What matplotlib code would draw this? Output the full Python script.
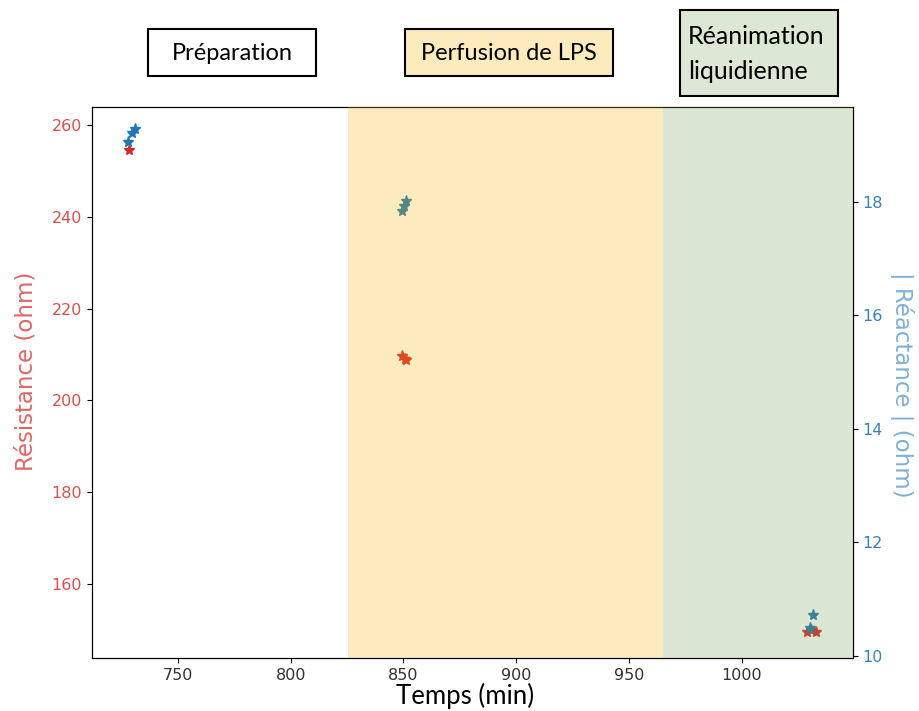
import matplotlib
matplotlib.use('Agg')
import matplotlib.pyplot as plt
from matplotlib.patches import Rectangle

# Données
temps_res = [728.3, 849.5, 850.5, 851.3, 1029.0, 1030.5, 1033.0]
resistance = [254.6, 209.6, 209.0, 208.7, 149.6, 149.9, 149.6]

temps_reac = [728.0, 729.5, 730.8, 849.5, 850.3, 851.3, 1030.0, 1031.4]
reactance = [19.06, 19.22, 19.28, 17.83, 17.92, 18.01, 10.49, 10.72]

# Phases (min)
phase_lps = (825.4, 965.0)
phase_rea = (965.0, 1049.2)
phase_noms = ['Préparation', 'Perfusion de LPS', 'Réanimation\nliquidienne']

W, H = 919, 711
fig = plt.figure(figsize=(W / 100, H / 100), dpi=100)
ax = fig.add_axes([0.100, 0.0745, 0.828, 0.775])
ax2 = ax.twinx()

ax.plot(temps_res, resistance, '*', color='tab:red', markersize=8, linestyle='none')
ax2.plot(temps_reac, reactance, '*', color='tab:blue', markersize=8, linestyle='none')

# bandes de phase dessinées par-dessus les points
ax2.axvspan(*phase_lps, color='#F7B303', alpha=0.25, lw=0, zorder=3)
ax2.axvspan(*phase_rea, color='#77A353', alpha=0.25, lw=0, zorder=3)

ax.set_xlim(711.9, 1049.2)
ax.set_ylim(143.9, 263.9)
ax2.set_ylim(9.96, 19.67)
ax.set_xticks([750, 800, 850, 900, 950, 1000])
ax.set_yticks([160, 180, 200, 220, 240, 260])
ax2.set_yticks([10, 12, 14, 16, 18])

ax.tick_params(axis='y', labelcolor='#D9504C', labelsize=11.5)
ax.tick_params(axis='x', labelsize=11.5, labelcolor='#333333')
ax2.tick_params(axis='y', labelcolor='#3A80B8', labelsize=11.5)

ax.set_ylabel('Résistance (ohm)', color='#E06666', fontsize=16.5)
ax.yaxis.set_label_coords(-0.072, 0.52)
ax2.set_ylabel('| Réactance | (ohm)', color='#7FB0D8', fontsize=16.5, rotation=270)
ax2.yaxis.set_label_coords(1.080, 0.495)
ax.set_xlabel('Temps (min)', fontsize=18.5, family='Lato')
ax.xaxis.set_label_coords(0.491, -0.046)


def boite(x0, y0, x1, y1, fc):
    # coordonnées en pixels (origine en haut à gauche)
    fig.add_artist(Rectangle((x0 / W, 1 - y1 / H), (x1 - x0) / W, (y1 - y0) / H,
                             transform=fig.transFigure, fc=fc, ec='black', lw=1.5))


boite(148, 29, 316, 76, 'white')
boite(405, 29, 613, 76, '#FDEBBE')
boite(680, 10, 838, 96, '#DDE8D4')

fig.text(232 / W, 1 - 53 / H, phase_noms[0], ha='center', va='center', fontsize=17, family='Lato')
fig.text(509 / W, 1 - 53 / H, phase_noms[1], ha='center', va='center', fontsize=17, family='Lato')
fig.text(688 / W, 1 - 54 / H, phase_noms[2], ha='left', va='center', fontsize=18, family='Lato',
         linespacing=1.6)

fig.savefig('out.png', dpi=100)
